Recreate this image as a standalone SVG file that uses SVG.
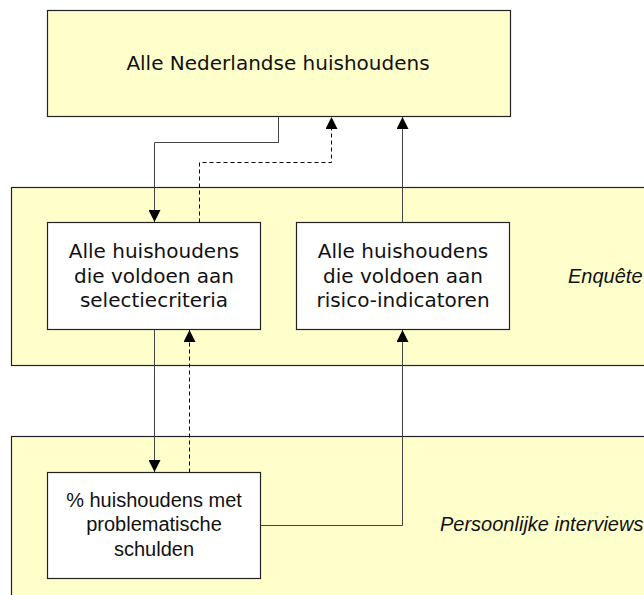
<svg xmlns="http://www.w3.org/2000/svg" width="644" height="595" viewBox="0 0 644 595">
  <defs>
    <marker id="arr" viewBox="0 0 12 12" refX="12" refY="6" markerWidth="12" markerHeight="12" markerUnits="userSpaceOnUse" orient="auto">
      <path d="M0,0 L12,6 L0,12 Z" fill="#000"/>
    </marker>
    <style>
      .band { fill: #FFFFCC; stroke: #222; stroke-width: 1.2; }
      .box { fill: #FFFFFF; stroke: #222; stroke-width: 1.2; }
      .top { fill: #FFFFCC; stroke: #222; stroke-width: 1.2; }
      .t { font-family: "DejaVu Sans", Verdana, sans-serif; font-size: 20px; fill: #111; text-anchor: middle; }
      .a { font-family: "Liberation Sans", Arial, sans-serif; font-size: 20px; fill: #111; text-anchor: middle; }
      .lbl { font-family: "Liberation Sans", Arial, sans-serif; font-size: 20px; font-style: italic; fill: #111; }
      .c { fill: none; stroke: #444; stroke-width: 1; }
      .d { fill: none; stroke: #000; stroke-width: 1; stroke-dasharray: 4 3; }
    </style>
  </defs>

  <g id="band-enquete">
    <rect class="band" x="11.5" y="187.5" width="640" height="178"/>
    <text class="lbl" x="568" y="283">Enquête</text>
  </g>
  <g id="band-interviews">
    <rect class="band" x="11.5" y="436.5" width="640" height="170"/>
    <text class="lbl" x="440" y="531">Persoonlijke interviews</text>
  </g>

  <g id="node-nl">
    <rect class="top" x="47.5" y="10.5" width="463" height="106"/>
    <text class="t" x="278" y="70">Alle Nederlandse huishoudens</text>
  </g>

  <g id="node-selectie">
    <rect class="box" x="47.5" y="222.5" width="213" height="107"/>
    <text class="t" x="154" y="258">Alle huishoudens</text>
    <text class="t" x="154" y="282.5">die voldoen aan</text>
    <text class="t" x="154" y="307">selectiecriteria</text>
  </g>

  <g id="node-risico">
    <rect class="box" x="296.5" y="222.5" width="213" height="107"/>
    <text class="t" x="403" y="258">Alle huishoudens</text>
    <text class="t" x="403" y="282.5">die voldoen aan</text>
    <text class="t" x="403" y="307">risico-indicatoren</text>
  </g>

  <g id="node-schulden">
    <rect class="box" x="47.5" y="472.5" width="213" height="106"/>
    <text class="a" x="154" y="506.5">% huishoudens met</text>
    <text class="a" x="154" y="531">problematische</text>
    <text class="a" x="154" y="555.5">schulden</text>
  </g>

  <g id="connectors">
    <path class="c" d="M278.5,116.5 V142.5 H154.5 V222" marker-end="url(#arr)"/>
    <path class="d" d="M199.5,222.5 V162.5 H331.5 V117" marker-end="url(#arr)"/>
    <path class="c" d="M402.5,222.5 V117" marker-end="url(#arr)"/>
    <path class="c" d="M154.5,329.5 V472" marker-end="url(#arr)"/>
    <path class="d" d="M189.5,472.5 V330" marker-end="url(#arr)"/>
    <path class="c" d="M260.5,525.5 H402.5 V330" marker-end="url(#arr)"/>
  </g>
</svg>
